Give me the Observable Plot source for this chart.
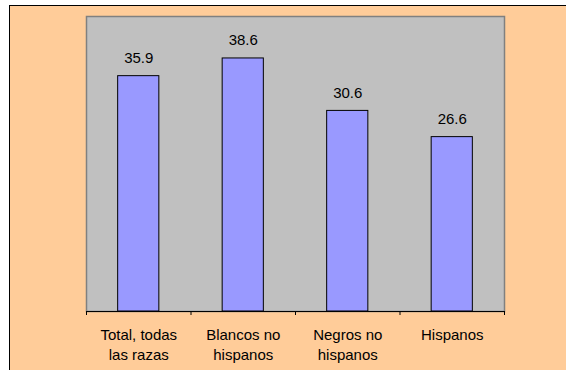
<!DOCTYPE html>
<html>
<head>
<meta charset="utf-8">
<script src="https://cdn.jsdelivr.net/npm/d3@7"></script>
<script src="https://cdn.jsdelivr.net/npm/@observablehq/plot@0.6"></script>
<style>
  html, body { margin: 0; padding: 0; background: #ffffff; }
  #wrap { position: relative; width: 566px; height: 370px; overflow: hidden; background: #ffffff; }
  #panel { position: absolute; left: 9px; top: 5px; width: 600px; height: 400px;
           background: #ffcc99; border-left: 1px solid #000; border-top: 1px solid #000; }
  #chart { position: absolute; left: 0; top: 0; }
  #chart svg { background: transparent; }
</style>
</head>
<body>
<div id="wrap"><div id="panel"></div><div id="chart"></div></div>
<script>
const categories = ["Total, todas\nlas razas", "Blancos no\nhispanos", "Negros no\nhispanos", "Hispanos"];
const values = [35.9, 38.6, 30.6, 26.6];
const valueLabels = ["35.9", "38.6", "30.6", "26.6"];

const data = categories.map((c, i) => ({cat: c, i, value: values[i], label: valueLabels[i]}));
const barHalf = 0.197;

const chart = Plot.plot({
  width: 566,
  height: 370,
  marginLeft: 86,
  marginRight: 62,
  marginTop: 16,
  marginBottom: 59,
  style: {fontFamily: "Arial, 'Liberation Sans', sans-serif", fontSize: "15px", background: "transparent", color: "#000"},
  x: {type: "linear", domain: [0, categories.length]},
  y: {domain: [0, 45]},
  marks: [
    Plot.frame({fill: "#c0c0c0", stroke: "#808080", strokeWidth: 1.5}),
    Plot.rectY(data, {x1: d => d.i + 0.5 - barHalf, x2: d => d.i + 0.5 + barHalf, y: "value", fill: "#9999ff", stroke: "#000", strokeWidth: 1}),
    Plot.text(data, {x: d => d.i + 0.5, y: "value", text: "label", dy: -18, fontSize: 15, fill: "#000"}),
    Plot.ruleY([0], {stroke: "#000"}),
    Plot.axisX({ticks: d3.range(categories.length + 1), tickFormat: () => "", tickSize: 4, stroke: "#000"}),
    Plot.axisY({ticks: [], label: null, tickSize: 0}),
    Plot.text(data, {x: d => d.i + 0.5, frameAnchor: "bottom", text: "cat", lineAnchor: "top", dy: 14, lineHeight: 1.33, fontSize: 15, fill: "#000"})
  ]
});
document.getElementById("chart").appendChild(chart);
</script>
</body>
</html>
